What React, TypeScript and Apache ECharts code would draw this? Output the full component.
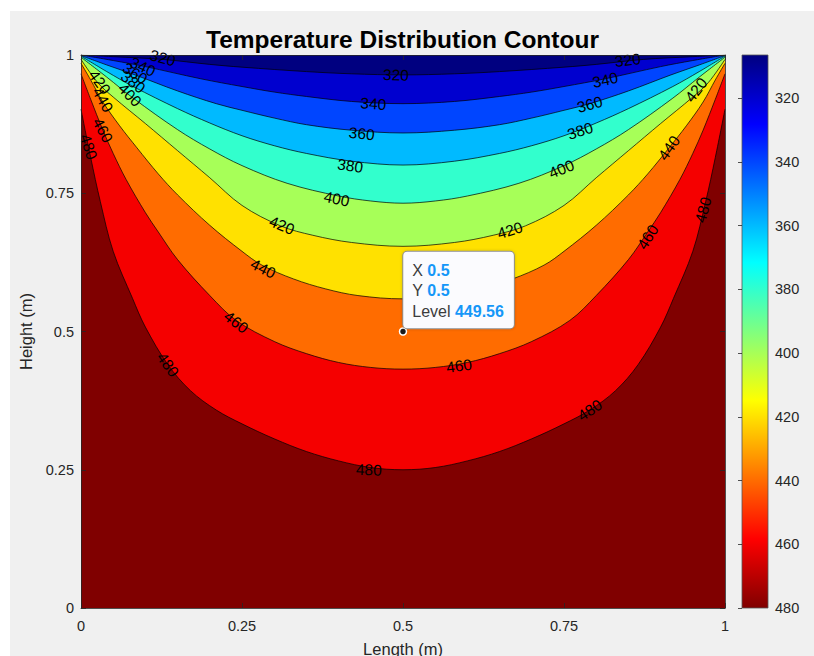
import React, { useEffect, useRef } from "react";
import * as echarts from "echarts";

// ---- data ----
const contourLevels = [480, 460, 440, 420, 400, 380, 360, 340, 320];
// colour of the band just below each level (fill above each contour line)
const bandColors = ["#F50000", "#FF6C00", "#FFE100", "#A7FF58", "#32FFCD", "#00BAFF", "#0045FF", "#0000CF", "#000080"];
const hottestColor = "#800000";

const contour480 = [[0,0.902],[0.015,0.815],[0.03,0.735],[0.05,0.645],[0.08,0.56],[0.1,0.508],[0.135,0.44],[0.17,0.393],[0.21,0.358],[0.25,0.333],[0.3,0.306],[0.35,0.283],[0.4,0.266],[0.45,0.254],[0.5,0.25],[0.55,0.254],[0.6,0.266],[0.65,0.283],[0.7,0.306],[0.75,0.333],[0.79,0.358],[0.83,0.393],[0.865,0.44],[0.9,0.508],[0.92,0.56],[0.95,0.645],[0.97,0.735],[0.985,0.815],[1,0.902]];
const contour460 = [[0,0.966],[0.015,0.92],[0.034,0.864],[0.05,0.822],[0.07,0.775],[0.1,0.715],[0.12,0.68],[0.15,0.63],[0.2,0.565],[0.241,0.52],[0.3,0.482],[0.35,0.46],[0.4,0.444],[0.45,0.435],[0.5,0.432],[0.55,0.435],[0.6,0.444],[0.65,0.46],[0.7,0.482],[0.759,0.52],[0.8,0.565],[0.85,0.63],[0.88,0.68],[0.9,0.715],[0.93,0.775],[0.95,0.822],[0.966,0.864],[0.985,0.92],[1,0.966]];
const contour440 = [[0,0.985],[0.015,0.955],[0.034,0.915],[0.06,0.872],[0.087,0.832],[0.12,0.785],[0.15,0.747],[0.2,0.692],[0.25,0.645],[0.281,0.62],[0.33,0.595],[0.38,0.577],[0.43,0.565],[0.5,0.559],[0.57,0.565],[0.62,0.577],[0.67,0.595],[0.719,0.62],[0.75,0.645],[0.8,0.692],[0.85,0.747],[0.88,0.785],[0.913,0.832],[0.94,0.872],[0.966,0.915],[0.985,0.955],[1,0.985]];
const contour420 = [[0,0.992],[0.026,0.95],[0.05,0.924],[0.1,0.876],[0.15,0.827],[0.2,0.778],[0.25,0.728],[0.31,0.691],[0.36,0.674],[0.42,0.661],[0.5,0.654],[0.58,0.661],[0.64,0.674],[0.69,0.691],[0.75,0.728],[0.8,0.778],[0.85,0.827],[0.9,0.876],[0.95,0.924],[0.974,0.95],[1,0.992]];
const contour400 = [[0,0.996],[0.04,0.96],[0.081,0.922],[0.15,0.865],[0.2,0.83],[0.25,0.8],[0.32,0.768],[0.4,0.745],[0.45,0.736],[0.5,0.732],[0.55,0.736],[0.6,0.745],[0.68,0.768],[0.75,0.8],[0.8,0.83],[0.85,0.865],[0.919,0.922],[0.96,0.96],[1,0.996]];
const contour380 = [[0,0.998],[0.04,0.97],[0.081,0.943],[0.15,0.903],[0.2,0.877],[0.25,0.854],[0.3,0.836],[0.35,0.822],[0.42,0.808],[0.5,0.801],[0.58,0.808],[0.65,0.822],[0.7,0.836],[0.75,0.854],[0.8,0.877],[0.85,0.903],[0.919,0.943],[0.96,0.97],[1,0.998]];
const contour360 = [[0,0.999],[0.04,0.982],[0.084,0.964],[0.15,0.935],[0.21,0.912],[0.25,0.9],[0.3,0.886],[0.35,0.874],[0.42,0.864],[0.5,0.859],[0.58,0.864],[0.65,0.874],[0.7,0.886],[0.75,0.9],[0.79,0.912],[0.85,0.935],[0.916,0.964],[0.96,0.982],[1,0.999]];
const contour340 = [[0,1],[0.05,0.99],[0.1,0.979],[0.186,0.957],[0.25,0.943],[0.3,0.933],[0.35,0.925],[0.42,0.916],[0.5,0.912],[0.58,0.916],[0.65,0.925],[0.7,0.933],[0.75,0.943],[0.814,0.957],[0.9,0.979],[0.95,0.99],[1,1]];
const contour320 = [[0,1],[0.05,0.997],[0.127,0.992],[0.2,0.983],[0.25,0.978],[0.35,0.97],[0.42,0.966],[0.5,0.964],[0.58,0.966],[0.65,0.97],[0.75,0.978],[0.8,0.983],[0.873,0.992],[0.95,0.997],[1,1]];
const contourLines = [contour480, contour460, contour440, contour420, contour400, contour380, contour360, contour340, contour320];

// inline contour labels
const labelLevels = [320, 340, 360, 380, 400, 420, 440, 460, 480, 320, 340, 360, 380, 400, 420, 440, 460, 480, 460, 480, 480, 420, 400, 380, 360, 340, 320, 420, 440, 460, 480];
const labelX = [0.127, 0.096, 0.084, 0.081, 0.076, 0.029, 0.034, 0.034, 0.012, 0.489, 0.454, 0.436, 0.418, 0.397, 0.312, 0.283, 0.241, 0.135, 0.587, 0.447, 0.79, 0.666, 0.746, 0.775, 0.79, 0.814, 0.849, 0.955, 0.913, 0.88, 0.966];
const labelY = [0.995, 0.979, 0.967, 0.951, 0.928, 0.951, 0.919, 0.864, 0.834, 0.964, 0.912, 0.858, 0.8, 0.74, 0.692, 0.614, 0.517, 0.44, 0.438, 0.25, 0.358, 0.683, 0.794, 0.863, 0.911, 0.955, 0.991, 0.937, 0.832, 0.671, 0.72];
const labelAngle = [-15, -25, -33, -38, -45, -55, -60, -62, -72, -2, -4, -6, -8, -12, -22, -27, -38, -55, 8, -2, 33, 17, 22, 18, 15, 12, 7, 52, 55, 58, 75];

// axes ticks
const axisTicks = [0, 0.25, 0.5, 0.75, 1];
const colorbarRange = [306.5, 480];
const colorbarTicks = [320, 340, 360, 380, 400, 420, 440, 460, 480];

// data tip
const tipX = [0.5];
const tipY = [0.5];
const tipLevel = [449.56];

const FONT = "'Liberation Sans', Arial, Helvetica, sans-serif";
const AX = "#262626";

const jetStops = [
  { offset: 0, color: "#000080" },
  { offset: 0.125, color: "#0000FF" },
  { offset: 0.375, color: "#00FFFF" },
  { offset: 0.625, color: "#FFFF00" },
  { offset: 0.875, color: "#FF0000" },
  { offset: 1, color: "#800000" },
];

function buildOption(): any {
  const fillSeries = contourLines.map((pts, i) => ({
    type: "line",
    name: String(contourLevels[i]),
    xAxisIndex: 0,
    yAxisIndex: 0,
    data: pts,
    smooth: 0.35,
    symbol: "none",
    silent: true,
    z: 2,
    lineStyle: { color: "#000", width: 0.7 },
    areaStyle: { origin: "end", color: bandColors[i], opacity: 1 },
  }));

  const labelSeries = {
    type: "scatter",
    xAxisIndex: 0,
    yAxisIndex: 0,
    symbolSize: 0,
    silent: true,
    z: 4,
    itemStyle: { opacity: 1 },
    data: labelLevels.map((lv, i) => ({
      value: [labelX[i], labelY[i]],
      label: { rotate: labelAngle[i], formatter: String(lv) },
    })),
    label: {
      show: true,
      position: "inside",
      align: "center",
      verticalAlign: "middle",
      fontFamily: FONT,
      fontSize: 15.5,
      color: "#000",
      opacity: 1,
    },
  };

  const tipSeries = {
    type: "scatter",
    xAxisIndex: 0,
    yAxisIndex: 0,
    z: 6,
    silent: true,
    symbol: "circle",
    symbolSize: 7,
    itemStyle: { color: "#1a1a1a", borderColor: "#ffffff", borderWidth: 1.5, opacity: 1 },
    data: tipX.map((x, i) => [x, tipY[i], tipLevel[i]]),
    label: {
      show: true,
      opacity: 1,
      position: [4.5, -75.5],
      align: "left",
      verticalAlign: "top",
      formatter: (p: any) =>
        `{k|X} {v|${p.value[0]}}\n{k|Y} {v|${p.value[1]}}\n{k|Level} {v|${p.value[2]}}`,
      backgroundColor: "#FBFBFE",
      borderColor: "#8E8E8E",
      borderWidth: 1,
      borderRadius: 4,
      padding: [8, 10, 7, 9],
      shadowBlur: 3,
      shadowColor: "rgba(0,0,0,0.18)",
      fontFamily: FONT,
      fontSize: 16,
      lineHeight: 20.5,
      color: "#3C3C3C",
      rich: {
        k: { fontFamily: FONT, fontSize: 16, lineHeight: 20.5, color: "#3C3C3C" },
        v: { fontFamily: FONT, fontSize: 16, lineHeight: 20.5, color: "#1597F8", fontWeight: "bold" },
      },
    },
  };

  const colorbarSeries = {
    type: "custom",
    xAxisIndex: 2,
    yAxisIndex: 2,
    silent: true,
    z: 2,
    data: [[0, colorbarRange[0], colorbarRange[1]]],
    encode: { x: 0, y: [1, 2] },
    renderItem: (_params: any, api: any) => {
      const p0 = api.coord([0, api.value(1)]);
      const p1 = api.coord([1, api.value(2)]);
      const y0 = Math.min(p0[1], p1[1]);
      return {
        type: "rect",
        shape: { x: p0[0], y: y0, width: p1[0] - p0[0], height: Math.abs(p1[1] - p0[1]) },
        style: {
          fill: new echarts.graphic.LinearGradient(0, 0, 0, 1, jetStops),
          stroke: "#555",
          lineWidth: 0.8,
        },
      };
    },
  };

  const mainAxisCommon = {
    type: "value",
    min: axisTicks[0],
    max: axisTicks[axisTicks.length - 1],
    interval: axisTicks[1] - axisTicks[0],
    gridIndex: 0,
    z: 8,
    splitLine: { show: false },
    axisLine: { show: true, onZero: false, lineStyle: { color: AX, width: 0.8 } },
    axisTick: { show: true, inside: true, length: 5, lineStyle: { color: AX, width: 0.8 } },
  };

  return {
    animation: false,
    backgroundColor: "transparent",
    title: {
      text: "Temperature Distribution Contour",
      left: 397.5,
      top: 22,
      textAlign: "center",
      textStyle: { fontFamily: FONT, fontSize: 24.5, fontWeight: "bold", color: "#000" },
    },
    grid: [
      { left: 81, top: 55, width: 644, height: 553, show: true, backgroundColor: hottestColor, borderWidth: 0, outerBoundsMode: "none", containLabel: false },
      { left: 742, top: 55, width: 26, height: 553, show: false, outerBoundsMode: "none", containLabel: false },
    ],
    xAxis: [
      {
        ...mainAxisCommon,
        position: "bottom",
        name: "Length (m)",
        nameLocation: "middle",
        nameGap: 32,
        nameTextStyle: { fontFamily: FONT, fontSize: 16.5, color: AX },
        axisLabel: { fontFamily: FONT, fontSize: 14.5, color: AX, margin: 10 },
      },
      {
        ...mainAxisCommon,
        position: "top",
        axisLabel: { show: false },
      },
      { type: "value", gridIndex: 1, min: 0, max: 1, show: false },
    ],
    yAxis: [
      {
        ...mainAxisCommon,
        position: "left",
        name: "Height (m)",
        nameLocation: "middle",
        nameGap: 39,
        nameTextStyle: { fontFamily: FONT, fontSize: 16.5, color: AX },
        axisLabel: { fontFamily: FONT, fontSize: 14.5, color: AX, margin: 7 },
      },
      {
        ...mainAxisCommon,
        position: "right",
        axisLabel: { show: false },
      },
      {
        type: "value",
        gridIndex: 1,
        position: "right",
        inverse: true,
        min: colorbarRange[0],
        max: colorbarRange[1],
        z: 8,
        splitLine: { show: false },
        axisLine: { show: false },
        axisTick: { show: true, inside: true, length: 4, customValues: colorbarTicks, lineStyle: { color: AX, width: 0.8 } },
        axisLabel: { show: true, customValues: colorbarTicks, fontFamily: FONT, fontSize: 14.5, color: AX, margin: 7 },
      },
    ],
    series: [...fillSeries, labelSeries, tipSeries, colorbarSeries],
  };
}

export default function App() {
  const ref = useRef<HTMLDivElement>(null);
  useEffect(() => {
    if (!ref.current) return;
    const chart = echarts.init(ref.current, null, { renderer: "svg" });
    chart.setOption(buildOption());
    return () => chart.dispose();
  }, []);
  return (
    <div style={{ position: "fixed", left: 0, top: 0, width: 814, height: 656, background: "#ffffff", overflow: "hidden" }}>
      <div style={{ position: "absolute", left: 10, top: 11, right: 0, bottom: 0, background: "#F0F0F0" }} />
      <div ref={ref} style={{ position: "absolute", left: 0, top: 0, width: 814, height: 656 }} />
    </div>
  );
}
